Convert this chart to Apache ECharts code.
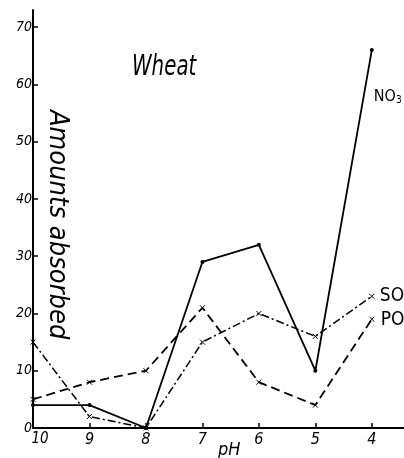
<!DOCTYPE html>
<html><head><meta charset="utf-8">
<script src="https://cdn.jsdelivr.net/npm/echarts@6/dist/echarts.min.js"></script>
<style>html,body{margin:0;padding:0;background:#fff}#c{width:404px;height:458px}</style>
</head><body><div id="c"></div>
<script>
const pH = [10, 9, 8, 7, 6, 5, 4];
const no3 = [4, 4, 0, 29, 32, 10, 66];
const so4 = [15, 2, 0, 15, 20, 16, 23];
const po4 = [5, 8, 10, 21, 8, 4, 19];
const yTicks = [0, 10, 20, 30, 40, 50, 60, 70];
const xTicks = [10, 9, 8, 7, 6, 5, 4];
const seriesNames = ['NO{s|3}', 'SO{s|4}', 'PO{s|4}'];

const NARROW = '"Liberation Sans Narrow", "DejaVu Sans Condensed", "Liberation Sans", sans-serif';
const xPath = 'path://M0,0L10,10M10,0L0,10';

// build [pH, value] pairs; the last point carries the series' end label
function pairs(arr, labelCfg) {
  return pH.map((p, i) => {
    if (i === pH.length - 1) return { value: [p, arr[i]], label: labelCfg };
    return [p, arr[i]];
  });
}
const labelBase = (text, size, offset) => ({
  show: true, position: 'right', distance: 5, offset: offset,
  formatter: text, color: '#000', fontSize: size, fontFamily: NARROW,
  rich: { s: { fontSize: Math.round(size * 0.65), color: '#000', fontFamily: NARROW, padding: [Math.round(size * 0.45), 0, 0, 0] } }
});

const chart = echarts.init(document.getElementById('c'));
chart.setOption({
  backgroundColor: '#fff',
  animation: false,
  grid: { left: 33, right: 0, top: 10, bottom: 30 },
  xAxis: {
    type: 'value', inverse: true, min: 3.43, max: 10,
    axisLine: { lineStyle: { color: '#000', width: 2 } },
    axisTick: { show: true, inside: true, length: 5, customValues: xTicks, lineStyle: { color: '#000', width: 1.5 } },
    axisLabel: {
      customValues: xTicks, color: '#000', fontSize: 16, fontStyle: 'italic', fontFamily: NARROW, margin: 4,
      formatter: v => v === 10 ? '{p|10}' : String(v),
      rich: { p: { padding: [0, 0, 0, 14], fontSize: 15, fontStyle: 'italic', fontFamily: NARROW, color: '#000' } }
    },
    splitLine: { show: false }
  },
  yAxis: {
    type: 'value', min: 0, max: 73,
    axisLine: { show: true, lineStyle: { color: '#000', width: 2 } },
    axisTick: { show: true, inside: true, length: 5, customValues: yTicks, lineStyle: { color: '#000', width: 1.5 } },
    axisLabel: { customValues: yTicks, color: '#000', fontSize: 14, fontStyle: 'italic', fontFamily: NARROW, margin: 1 },
    splitLine: { show: false }
  },
  graphic: [
    { type: 'text', x: 132, y: 53, scaleX: 0.76, style: { text: 'Wheat', font: 'italic 29px ' + NARROW, fill: '#000' } },
    { type: 'text', x: 71, y: 110, rotation: -Math.PI / 2, style: { text: 'Amounts absorbed', font: 'italic 27px ' + NARROW, fill: '#000' } },
    { type: 'text', x: 218, y: 441, style: { text: 'pH', font: 'italic 18px ' + NARROW, fill: '#000' } }
  ],
  series: [
    {
      name: 'NO3', type: 'line', data: pairs(no3, labelBase(seriesNames[0], 16, [-5, 47])),
      lineStyle: { color: '#000', width: 1.8 },
      symbol: 'circle', symbolSize: 4, itemStyle: { color: '#000' }
    },
    {
      name: 'SO4', type: 'line', data: pairs(so4, labelBase(seriesNames[1], 19, [0, 0])),
      lineStyle: { color: '#000', width: 1.5, type: [8, 3, 2, 3] },
      symbol: xPath, symbolSize: 5, itemStyle: { color: '#000', borderColor: '#000' }
    },
    {
      name: 'PO4', type: 'line', data: pairs(po4, labelBase(seriesNames[2], 19, [1, 1])),
      lineStyle: { color: '#000', width: 1.8, type: [9, 5] },
      symbol: xPath, symbolSize: 5, itemStyle: { color: '#000', borderColor: '#000' }
    }
  ]
});
</script></body></html>
